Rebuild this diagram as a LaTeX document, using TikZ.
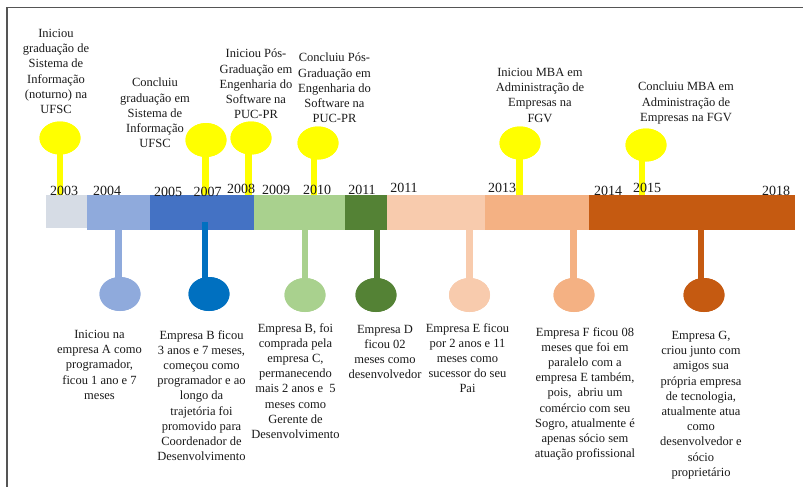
\documentclass[tikz,border=0pt]{standalone}
\usepackage{fontspec}
\setmainfont{Liberation Serif}
\usetikzlibrary{shapes.geometric}
\definecolor{cA}{HTML}{D6DCE5}
\definecolor{cB}{HTML}{8FAADC}
\definecolor{cC}{HTML}{4472C4}
\definecolor{cCd}{HTML}{0070C0}
\definecolor{cD}{HTML}{A9D18E}
\definecolor{cE}{HTML}{548235}
\definecolor{cF}{HTML}{F8CBAD}
\definecolor{cG}{HTML}{F4B183}
\definecolor{cH}{HTML}{C55A11}
\definecolor{yel}{HTML}{FFFF00}
\definecolor{frame}{HTML}{555555}
\definecolor{txt}{HTML}{1A1A1A}
\begin{document}
\begin{tikzpicture}[x=1pt,y=-1pt,
  seg/.style={rectangle,draw=none,inner sep=0,outer sep=0,anchor=north west},
  dot/.style={ellipse,draw=none,inner sep=0,outer sep=0,minimum width=41pt,minimum height=34pt},
  stemline/.style={line width=6.5pt,line cap=butt},
  yr/.style={font=\fontsize{14}{16}\selectfont,inner sep=0,anchor=base,text=txt},
  lbl/.style={font=\fontsize{12.5}{15.2}\selectfont,align=center,inner sep=0,anchor=north,text=txt}]
\useasboundingbox (0,0) rectangle (803,487);
% frame
\coordinate (fc) at (7,7.5);
\coordinate (fr) at (803,7.5);
\coordinate (fb) at (7,487);
\draw[frame,line width=1.4pt] (fb) -- (fc) -- (fr);
% bar
\coordinate (bartop) at (0,195);
\coordinate (barbot) at (0,230);
\node[seg,fill=cA,minimum width=41pt,minimum height=33pt] (s1) at (46,195) {};
\node[seg,fill=cB,minimum width=63pt,minimum height=35pt] (s2) at (87,195) {};
\node[seg,fill=cC,minimum width=104pt,minimum height=35pt] (s3) at (150,195) {};
\node[seg,fill=cD,minimum width=91pt,minimum height=35pt] (s4) at (254,195) {};
\node[seg,fill=cE,minimum width=42pt,minimum height=35pt] (s5) at (345,195) {};
\node[seg,fill=cF,minimum width=98pt,minimum height=35pt] (s6) at (387,195) {};
\node[seg,fill=cG,minimum width=104pt,minimum height=35pt] (s7) at (485,195) {};
\node[seg,fill=cH,minimum width=206pt,minimum height=35pt] (s8) at (589,195) {};
% top circles
\node[dot,fill=yel,minimum height=33pt] (t1) at (60,138) {};
\node[dot,fill=yel] (t2) at (206,140) {};
\node[dot,fill=yel,minimum height=33pt] (t3) at (251,138) {};
\node[dot,fill=yel,minimum height=33pt] (t4) at (318,143) {};
\node[dot,fill=yel,minimum height=33pt] (t5) at (520,143) {};
\node[dot,fill=yel,minimum height=33pt] (t6) at (646,145) {};
% top stems
\begin{scope}[on background layer/.style={}]
\draw[stemline,yel] (t1.center) -- (t1.center |- bartop);
\draw[stemline,yel] ([xshift=-0.5pt]t2.center) -- ([xshift=-0.5pt]t2.center |- bartop);
\draw[stemline,yel] ([xshift=-2.5pt]t3.center) -- ([xshift=-2.5pt]t3.center |- bartop);
\draw[stemline,yel] ([xshift=-4pt]t4.center) -- ([xshift=-4pt]t4.center |- bartop);
\draw[stemline,yel] ([xshift=-0.5pt]t5.center) -- ([xshift=-0.5pt]t5.center |- bartop);
\draw[stemline,yel] ([xshift=-4pt]t6.center) -- ([xshift=-4pt]t6.center |- bartop);
\end{scope}
% redraw circles on top of stems
\node[dot,fill=yel,minimum height=33pt] (t1b) at (t1) {};
\node[dot,fill=yel] (t2b) at (t2) {};
\node[dot,fill=yel,minimum height=33pt] (t3b) at (t3) {};
\node[dot,fill=yel,minimum height=33pt] (t4b) at (t4) {};
\node[dot,fill=yel,minimum height=33pt] (t5b) at (t5) {};
\node[dot,fill=yel,minimum height=33pt] (t6b) at (t6) {};
% years
\node[yr] (y2003) at (64,195.5) {2003};
\node[yr] (y2004) at (107,195.5) {2004};
\node[yr] (y2005) at (168,196) {2005};
\node[yr] (y2007) at (207.5,196) {2007};
\node[yr] (y2008) at (241,193.5) {2008};
\node[yr] (y2009) at (276,194) {2009};
\node[yr] (y2010) at (317,194) {2010};
\node[yr] (y2011) at (362,194) {2011};
\node[yr] (y2011b) at (404,192) {2011};
\node[yr] (y2013) at (502,192) {2013};
\node[yr] (y2014) at (608,195) {2014};
\node[yr] (y2015) at (647,192) {2015};
\node[yr] (y2018) at (776,195.5) {2018};
% bottom circles
\node[dot,fill=cB] (b1) at (120,294) {};
\node[dot,fill=cCd] (b2) at (209,294) {};
\node[dot,fill=cD] (b3) at (305,295) {};
\node[dot,fill=cE] (b4) at (376,295) {};
\node[dot,fill=cF] (b5) at (469.5,295) {};
\node[dot,fill=cG] (b6) at (574,295) {};
\node[dot,fill=cH] (b7) at (704,295) {};
% bottom stems
\coordinate (b2top) at (0,222);
\draw[stemline,cB,line width=7pt] ([xshift=-1.5pt]b1.center |- barbot) -- ([xshift=-1.5pt]b1.center);
\draw[stemline,cCd] ([xshift=-4pt]b2.center |- b2top) -- ([xshift=-4pt]b2.center);
\draw[stemline,cD] (b3.center |- barbot) -- (b3.center);
\draw[stemline,cE] ([xshift=1pt]b4.center |- barbot) -- ([xshift=1pt]b4.center);
\draw[stemline,cF] (b5.center |- barbot) -- (b5.center);
\draw[stemline,cG] ([xshift=-0.5pt]b6.center |- barbot) -- ([xshift=-0.5pt]b6.center);
\draw[stemline,cH] ([xshift=-3pt]b7.center |- barbot) -- ([xshift=-3pt]b7.center);
\node[dot,fill=cB] (b1b) at (b1) {};
\node[dot,fill=cCd] (b2b) at (b2) {};
\node[dot,fill=cD] (b3b) at (b3) {};
\node[dot,fill=cE] (b4b) at (b4) {};
\node[dot,fill=cF] (b5b) at (b5) {};
\node[dot,fill=cG] (b6b) at (b6) {};
\node[dot,fill=cH] (b7b) at (b7) {};
% top labels
\node[lbl] (l1) at (56,29) {Iniciou\\graduação de\\Sistema de\\Informação\\(noturno) na\\UFSC};
\node[lbl] (l2) at (155,78) {Concluiu\\graduação em\\Sistema de\\Informação\\UFSC};
\node[lbl] (l3) at (256,49) {Iniciou Pós-\\Graduação em\\Engenharia do\\Software na\\PUC-PR};
\node[lbl] (l4) at (334.5,53) {Concluiu Pós-\\Graduação em\\Engenharia do\\Software na\\PUC-PR};
\node[lbl] (l5) at (540,68) {Iniciou MBA em\\Administração de\\Empresas na\\FGV};
\node[lbl] (l6) at (686,82) {Concluiu MBA em\\Administração de\\Empresas na FGV};
% bottom labels
\node[lbl] (d1) at (99.5,330) {Iniciou na\\empresa A como\\programador,\\ficou 1 ano e 7\\meses};
\node[lbl] (d2) at (201.5,330) {Empresa B ficou\\3 anos e 7 meses,\\começou como\\programador e ao\\longo da\\trajetória foi\\promovido para\\Coordenador de\\Desenvolvimento};
\node[lbl] (d3) at (295.5,323) {Empresa B, foi\\comprada pela\\empresa C,\\permanecendo\\mais 2 anos e\ \ 5\\meses como\\Gerente de\\Desenvolvimento};
\node[lbl] (d4) at (385,325) {Empresa D\\ficou 02\\meses como\\desenvolvedor};
\node[lbl] (d5) at (467.5,323) {Empresa E ficou\\por 2 anos e 11\\meses como\\sucessor do seu\\Pai};
\node[lbl] (d6) at (585,327) {Empresa F ficou 08\\meses que foi em\\paralelo com a\\empresa E também,\\pois,\ \ abriu um\\comércio com seu\\Sogro, atualmente é\\apenas sócio sem\\atuação profissional};
\node[lbl] (d7) at (701,331) {Empresa G,\\criou junto com\\amigos sua\\própria empresa\\de tecnologia,\\atualmente atua\\como\\desenvolvedor e\\sócio\\proprietário};
\end{tikzpicture}
\end{document}
